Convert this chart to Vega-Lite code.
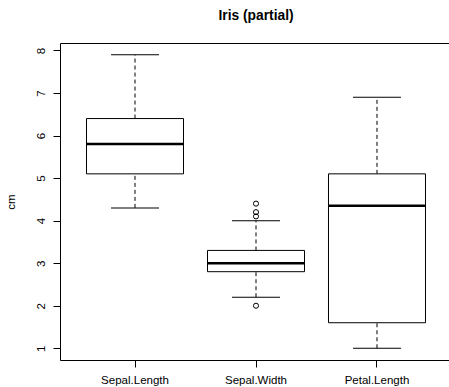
{
  "$schema": "https://vega.github.io/schema/vega-lite/v6.json",
  "autosize": "none",
  "padding": {"left": 60, "top": 43, "right": 0, "bottom": 27},
  "width": 392,
  "height": 317,
  "background": "white",
  "title": {
    "text": "Iris (partial)",
    "font": "Liberation Sans",
    "fontSize": 13.8,
    "fontWeight": "bold",
    "color": "black",
    "anchor": "middle",
    "baseline": "alphabetic",
    "offset": 9
  },
  "config": {
    "view": {"stroke": "black", "strokeWidth": 1},
    "axis": {
      "labelFont": "Liberation Sans",
      "labelFontSize": 11.5,
      "labelColor": "black",
      "titleFont": "Liberation Sans",
      "titleFontSize": 11.5,
      "titleFontWeight": "normal",
      "titleColor": "black",
      "tickColor": "black",
      "tickSize": 7,
      "grid": false,
      "domain": false
    }
  },
  "datasets": {
    "boxes": [
      {"variable": "Sepal.Length", "lower": 4.3, "q1": 5.1, "median": 5.8, "q3": 6.4, "upper": 7.9},
      {"variable": "Sepal.Width", "lower": 2.2, "q1": 2.8, "median": 3.0, "q3": 3.3, "upper": 4.0},
      {"variable": "Petal.Length", "lower": 1.0, "q1": 1.6, "median": 4.35, "q3": 5.1, "upper": 6.9}
    ],
    "outliers": [
      {"variable": "Sepal.Width", "value": 4.4},
      {"variable": "Sepal.Width", "value": 4.1},
      {"variable": "Sepal.Width", "value": 4.2},
      {"variable": "Sepal.Width", "value": 2.0}
    ]
  },
  "encoding": {
    "x": {
      "field": "variable",
      "type": "nominal",
      "sort": ["Sepal.Length", "Sepal.Width", "Petal.Length"],
      "scale": {"paddingInner": 0, "paddingOuter": 0.12},
      "axis": {"title": null, "labelAngle": 0, "labelPadding": 7, "labelBaseline": "top"}
    }
  },
  "layer": [
    {
      "data": {"name": "boxes"},
      "mark": {"type": "rule", "color": "black", "strokeWidth": 1, "strokeDash": [4, 3]},
      "encoding": {
        "y": {
          "field": "lower",
          "type": "quantitative",
          "scale": {"domain": [0.724, 8.176], "nice": false, "zero": false},
          "axis": {
            "title": "cm",
            "values": [1, 2, 3, 4, 5, 6, 7, 8],
            "labelAngle": -90,
            "labelAlign": "center",
            "labelBaseline": "alphabetic",
            "labelPadding": 9,
            "titleAngle": -90,
            "titleAlign": "center",
            "titleBaseline": "alphabetic",
            "titleX": -46,
            "titleY": 158.5
          }
        },
        "y2": {"field": "q1"}
      }
    },
    {
      "data": {"name": "boxes"},
      "mark": {"type": "rule", "color": "black", "strokeWidth": 1, "strokeDash": [4, 3]},
      "encoding": {
        "y": {"field": "q3", "type": "quantitative"},
        "y2": {"field": "upper"}
      }
    },
    {
      "data": {"name": "boxes"},
      "mark": {"type": "tick", "color": "black", "size": 48, "thickness": 1, "opacity": 1},
      "encoding": {"y": {"field": "lower", "type": "quantitative"}}
    },
    {
      "data": {"name": "boxes"},
      "mark": {"type": "tick", "color": "black", "size": 48, "thickness": 1, "opacity": 1},
      "encoding": {"y": {"field": "upper", "type": "quantitative"}}
    },
    {
      "data": {"name": "boxes"},
      "mark": {"type": "bar", "fill": "white", "stroke": "black", "strokeWidth": 1, "size": 97},
      "encoding": {
        "y": {"field": "q1", "type": "quantitative"},
        "y2": {"field": "q3"}
      }
    },
    {
      "data": {"name": "boxes"},
      "mark": {"type": "tick", "color": "black", "size": 97, "thickness": 2.5, "opacity": 1},
      "encoding": {"y": {"field": "median", "type": "quantitative"}}
    },
    {
      "data": {"name": "outliers"},
      "mark": {"type": "point", "shape": "circle", "filled": false, "stroke": "black", "strokeWidth": 1, "size": 26, "opacity": 1},
      "encoding": {"y": {"field": "value", "type": "quantitative"}}
    }
  ]
}
